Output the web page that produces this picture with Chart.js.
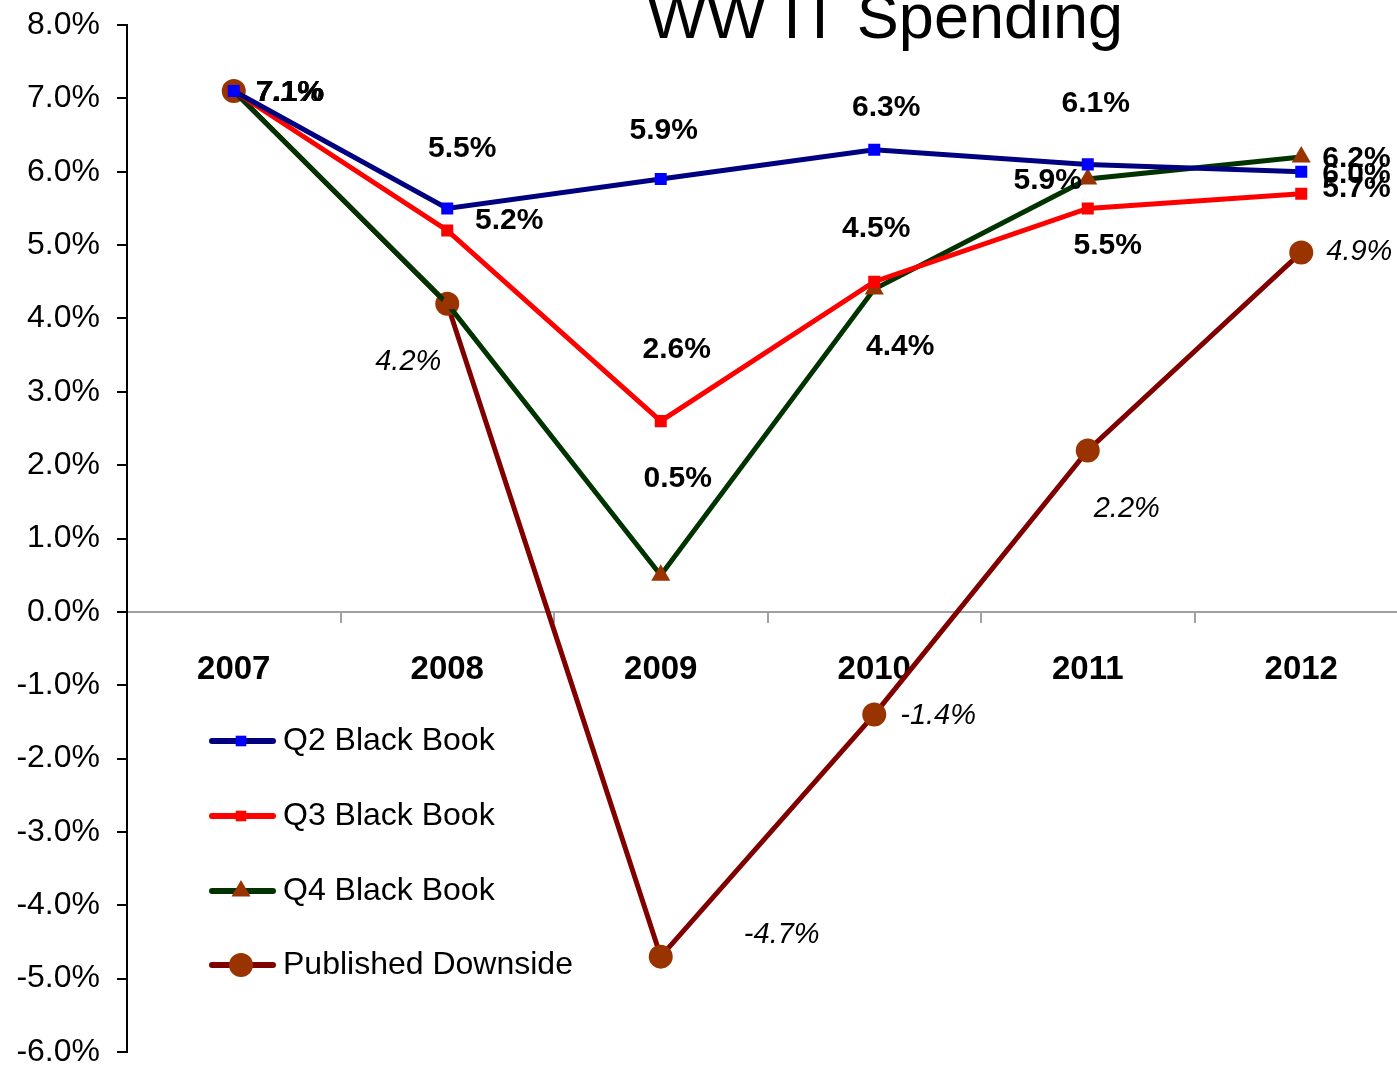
<!DOCTYPE html>
<html>
<head>
<meta charset="utf-8">
<title>WW IT Spending</title>
<script src="https://cdn.jsdelivr.net/npm/chart.js@4/dist/chart.umd.min.js"></script>
<style>
  html, body { margin: 0; padding: 0; background: #fff; overflow: hidden; }
  #wrap { position: relative; width: 1420px; height: 1071px; }
</style>
</head>
<body>
<div id="wrap"><canvas id="spendChart"></canvas></div>
<script>
// ── Data ──
const years = ['2007', '2008', '2009', '2010', '2011', '2012'];
const q2BlackBook = [7.1, 5.5, 5.9, 6.3, 6.1, 6.0];
const q3BlackBook = [7.1, 5.2, 2.6, 4.5, 5.5, 5.7];
const q4BlackBook = [7.1, 4.2, 0.5, 4.4, 5.9, 6.2];
const publishedDownside = [7.1, 4.2, -4.7, -1.4, 2.2, 4.9];

const FONT = '"Liberation Sans", Arial, Helvetica, sans-serif';

// ── Where each value label sits relative to its point: [dx, dy, align] ──
// null = no label drawn for that point
const LABEL_POS = [
  [[22, 2, 'left'], [15, -60, 'center'], [3, -48, 'center'], [12, -42, 'center'], [8, -61, 'center'], [21, 3, 'left']],
  [[22, 2, 'left'], [62, -10, 'center'], [16, -71, 'center'], [2, -53, 'center'], [20, 37, 'center'], [21, -5, 'left']],
  [[22, 2, 'left'], null, [17, -96, 'center'], [26, 58, 'center'], [-40, 2, 'center'], [21, 2, 'left']],
  [[22, 2, 'left'], [-39, 58, 'center'], [121, -22, 'center'], [26, 1, 'left'], [39, 58, 'center'], [25, 0, 'left']]
];
const LABEL_FONT = ['bold 30px ' + FONT, 'bold 30px ' + FONT, 'bold 30px ' + FONT, 'italic 29px ' + FONT];

// ── Marker drawing shared by the legend ──
function drawMarker(ctx, style, x, y, r, color) {
  ctx.save();
  ctx.fillStyle = color;
  ctx.beginPath();
  if (style === 'rect') {
    const s = r / Math.SQRT2;
    ctx.rect(x - s, y - s, 2 * s, 2 * s);
  } else if (style === 'triangle') {
    let a = 0;
    ctx.moveTo(x + Math.sin(a) * r, y - Math.cos(a) * r);
    a += 2 * Math.PI / 3;
    ctx.lineTo(x + Math.sin(a) * r, y - Math.cos(a) * r);
    a += 2 * Math.PI / 3;
    ctx.lineTo(x + Math.sin(a) * r, y - Math.cos(a) * r);
    ctx.closePath();
  } else {
    ctx.arc(x, y, r, 0, Math.PI * 2);
  }
  ctx.fill();
  ctx.restore();
}

// ── Title, value labels and legend ──
const decorPlugin = {
  id: 'decor',
  afterDatasetsDraw(chart) {
    const ctx = chart.ctx;
    ctx.save();
    ctx.fillStyle = '#000';
    ctx.textBaseline = 'middle';
    chart.data.datasets.forEach((ds, i) => {
      const meta = chart.getDatasetMeta(i);
      ctx.font = LABEL_FONT[i];
      meta.data.forEach((pt, j) => {
        const pos = LABEL_POS[i][j];
        if (!pos) return;
        ctx.textAlign = pos[2];
        ctx.fillText(ds.data[j].toFixed(1) + '%', pt.x + pos[0], pt.y + pos[1]);
      });
    });
    ctx.restore();
  },
  afterDraw(chart) {
    const ctx = chart.ctx;
    ctx.save();
    // title
    ctx.fillStyle = '#000';
    ctx.font = '63px ' + FONT;
    ctx.textAlign = 'center';
    ctx.textBaseline = 'alphabetic';
    ctx.fillText('WW IT Spending', 885, 38);

    // legend
    const rowY = [741, 816, 891, 965];
    ctx.font = '32px ' + FONT;
    ctx.textAlign = 'left';
    ctx.textBaseline = 'middle';
    chart.data.datasets.forEach((ds, i) => {
      const y = rowY[i];
      ctx.strokeStyle = ds.borderColor;
      ctx.lineWidth = 6;
      ctx.lineCap = 'round';
      ctx.beginPath();
      ctx.moveTo(212, y);
      ctx.lineTo(273, y);
      ctx.stroke();
      drawMarker(ctx, ds.pointStyle, 241, y, ds.legendRadius, ds.pointBackgroundColor);
      ctx.fillStyle = '#000';
      ctx.fillText(ds.label, 283, y);
    });
    ctx.restore();
  }
};

new Chart(document.getElementById('spendChart'), {
  type: 'line',
  data: {
    labels: years,
    datasets: [
      {
        label: 'Q2 Black Book', data: q2BlackBook,
        borderColor: '#000080', borderWidth: 5,
        pointStyle: 'rect', pointRadius: 8.5, legendRadius: 7.5,
        pointBackgroundColor: '#0000FF', pointBorderColor: '#0000FF', pointBorderWidth: 0
      },
      {
        label: 'Q3 Black Book', data: q3BlackBook,
        borderColor: '#FF0000', borderWidth: 5,
        pointStyle: 'rect', pointRadius: 8.5, legendRadius: 7.5,
        pointBackgroundColor: '#FF0000', pointBorderColor: '#FF0000', pointBorderWidth: 0
      },
      {
        label: 'Q4 Black Book', data: q4BlackBook,
        borderColor: '#003300', borderWidth: 5,
        pointStyle: 'triangle', pointRadius: 11, legendRadius: 11,
        pointBackgroundColor: '#993300', pointBorderColor: '#993300', pointBorderWidth: 0
      },
      {
        label: 'Published Downside', data: publishedDownside,
        borderColor: '#800000', borderWidth: 5,
        pointStyle: 'circle', pointRadius: 12, legendRadius: 12,
        pointBackgroundColor: '#993300', pointBorderColor: '#993300', pointBorderWidth: 0
      }
    ]
  },
  options: {
    responsive: true,
    maintainAspectRatio: false,
    animation: false,
    layout: { padding: { left: 0, top: 25, right: 12, bottom: 19 } },
    plugins: {
      legend: { display: false },
      tooltip: { enabled: false },
      title: { display: false }
    },
    scales: {
      x: {
        position: { y: 0 },
        offset: true,
        afterFit: s => { s.height = 0; s.paddingTop = 0; s.paddingBottom = 0; },
        grid: { display: true, drawOnChartArea: false, offset: true, tickLength: 10, color: '#A0A0A0', lineWidth: 2 },
        border: { display: true, color: '#A0A0A0', width: 2 },
        ticks: { color: '#000', padding: 28, font: { family: FONT, size: 33, weight: 'bold' }, maxRotation: 0 }
      },
      y: {
        min: -6,
        max: 8,
        afterFit: s => { s.width = 127; s.paddingTop = 0; s.paddingBottom = 0; },
        grid: { display: true, drawOnChartArea: false, tickLength: 10, color: '#000', lineWidth: 2 },
        border: { display: true, color: '#000', width: 2 },
        ticks: {
          stepSize: 1,
          padding: 17,
          color: '#000',
          font: { family: FONT, size: 32 },
          callback: v => v.toFixed(1) + '%'
        }
      }
    }
  },
  plugins: [decorPlugin]
});
</script>
</body>
</html>
